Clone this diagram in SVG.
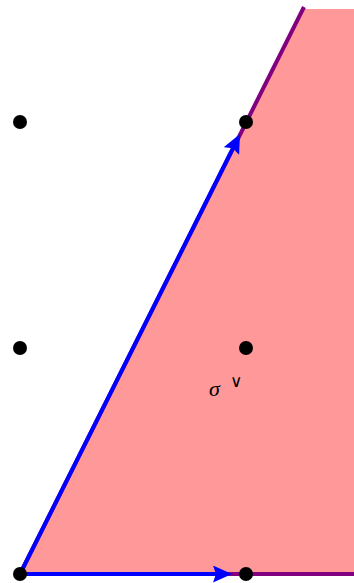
<svg xmlns="http://www.w3.org/2000/svg" width="354" height="583" viewBox="0 0 354 583">
<defs>
<marker id="ah" markerWidth="19" markerHeight="17" refX="15" refY="8.5" orient="auto" markerUnits="userSpaceOnUse" viewBox="0 0 19 17">
<path d="M0,0 L19,8.5 L0,17 L3,8.5 Z" fill="#0000ff"/>
</marker>
<style>
.dot{fill:#000}
.edge{stroke:#800080;stroke-width:4;fill:none}
.vec{stroke:#0000ff;stroke-width:4;fill:none}
</style>
</defs>
<g id="cone">
<polygon points="20,574 304,9 354,9 354,574" fill="#ff9999"/>
</g>
<g id="connectors">
<line class="edge" x1="20" y1="574" x2="304" y2="7"/>
<line class="edge" x1="20" y1="574" x2="354" y2="574"/>
<path class="vec" d="M20,574 L228,574" marker-end="url(#ah)"/>
<path class="vec" d="M20,574 L238.2,137.6" marker-end="url(#ah)"/>
</g>
<g id="p1"><circle class="dot" cx="20" cy="122" r="7"/></g>
<g id="p2"><circle class="dot" cx="246" cy="122" r="7"/></g>
<g id="p3"><circle class="dot" cx="20" cy="348" r="7"/></g>
<g id="p4"><circle class="dot" cx="246" cy="348" r="7"/></g>
<g id="p5"><circle class="dot" cx="20" cy="574" r="7"/></g>
<g id="p6"><circle class="dot" cx="246" cy="574" r="7"/></g>
<g id="label">
<text x="209" y="396" font-family="Liberation Serif, serif" font-style="italic" font-size="22">σ</text>
<text x="230" y="387" font-family="DejaVu Sans, sans-serif" font-weight="200" font-size="17">∨</text>
</g>
</svg>
